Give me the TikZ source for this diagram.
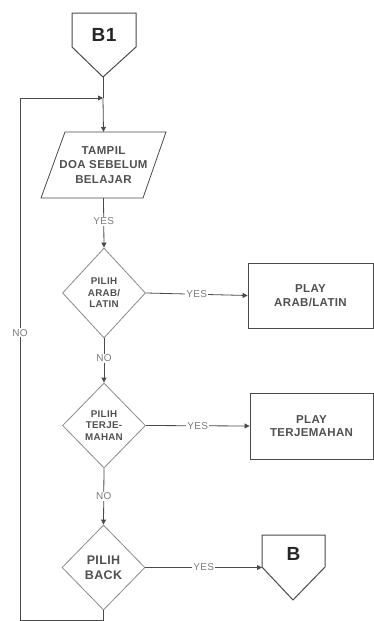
\documentclass[tikz,border=0pt]{standalone}
\usepackage{fontspec}
\setmainfont{Liberation Sans}[LetterSpace=3]
\usetikzlibrary{shapes.geometric,arrows.meta}
\definecolor{txt}{HTML}{505050}
\definecolor{ln}{HTML}{4A4A4A}
\definecolor{dia}{HTML}{8A8A8A}
\tikzset{
  every node/.style={inner sep=0pt, text=txt, font=\fontsize{11.5}{14.5}\bfseries\selectfont, align=center},
  conn/.style={draw=ln, line width=0.8pt},
  arr/.style={conn, -{Triangle[length=5pt,width=5pt]}},
  decision/.style={diamond, draw=dia, line width=0.8pt, minimum width=83pt, font=\fontsize{9.8}{11.5}\bfseries\selectfont},
  procbox/.style={rectangle, draw=ln, line width=0.8pt, font=\fontsize{11.5}{13.5}\bfseries\selectfont},
  lbl/.style={fill=white, inner sep=1pt, text=txt!75, font=\fontsize{10}{11}\selectfont},
  offpage/.style={draw=ln, line width=1pt, line join=miter}
}
\begin{document}
\begin{tikzpicture}[x=1pt,y=-1pt]
\useasboundingbox (0,0) rectangle (374,621);
% B1 off-page connector
\draw[offpage] (72,13) -- (136,13) -- (136,47) -- (103,77) -- (72,47) -- cycle;
\node[font=\fontsize{19}{20}\bfseries\selectfont, text=black!85] (b1) at (104,35) {B1};
\coordinate (b1tip) at (103,77);
% parallelogram
\draw[conn] (65,132) -- (166,132) -- (143,198) -- (41,198) -- cycle;
\node[minimum height=66pt, minimum width=60pt] (para) at (103.5,165) {TAMPIL\\DOA SEBELUM\\BELAJAR};
% decisions
\node[decision, minimum height=90pt] (d1) at (104,293) {PILIH\\ARAB/\\LATIN};
\node[decision, minimum height=85pt] (d2) at (104,425.5) {PILIH\\TERJE-\\MAHAN};
\node[decision, minimum height=85pt, font=\fontsize{12.5}{15}\bfseries\selectfont] (d3) at (103.5,567.5) {PILIH\\BACK};
% process boxes
\node[procbox, minimum width=125pt, minimum height=65pt] (p1) at (310.5,295.5) {PLAY\\ARAB/LATIN};
\node[procbox, minimum width=123pt, minimum height=66pt] (p2) at (311.5,426) {PLAY\\TERJEMAHAN};
% B off-page connector
\draw[offpage] (262,535) -- (325,535) -- (325,567) -- (293,600) -- (262,567) -- cycle;
\node[font=\fontsize{19}{20}\bfseries\selectfont, text=black!85] (b) at (293.5,554) {B};
\coordinate (bin) at (262,567.5);
% loop coordinates
\coordinate (join) at (103,98);
\coordinate (lb) at (103.5,620);
\coordinate (lbl) at (20,620);
\coordinate (ltl) at (20,98);
% connectors
\draw[conn] (b1tip) -- (join);
\draw[arr] (join) -- (para.north);
\draw[arr] (para.south) -- node[lbl, pos=0.47]{YES} (d1.north);
\draw[arr] (d1.east) -- node[lbl, pos=0.5]{YES} (p1.west);
\draw[arr] (d1.south) -- node[lbl, pos=0.45]{NO} (d2.north);
\draw[arr] (d2.east) -- node[lbl, pos=0.5]{YES} (p2.west);
\draw[arr] (d2.south) -- node[lbl, pos=0.5]{NO} (d3.north);
\draw[arr] (d3.east) -- node[lbl, pos=0.5]{YES} (bin);
\draw[arr] (d3.south) -- (lb) -- (lbl) -- node[lbl, pos=0.55]{NO} (ltl) -- (join);
\end{tikzpicture}
\end{document}
